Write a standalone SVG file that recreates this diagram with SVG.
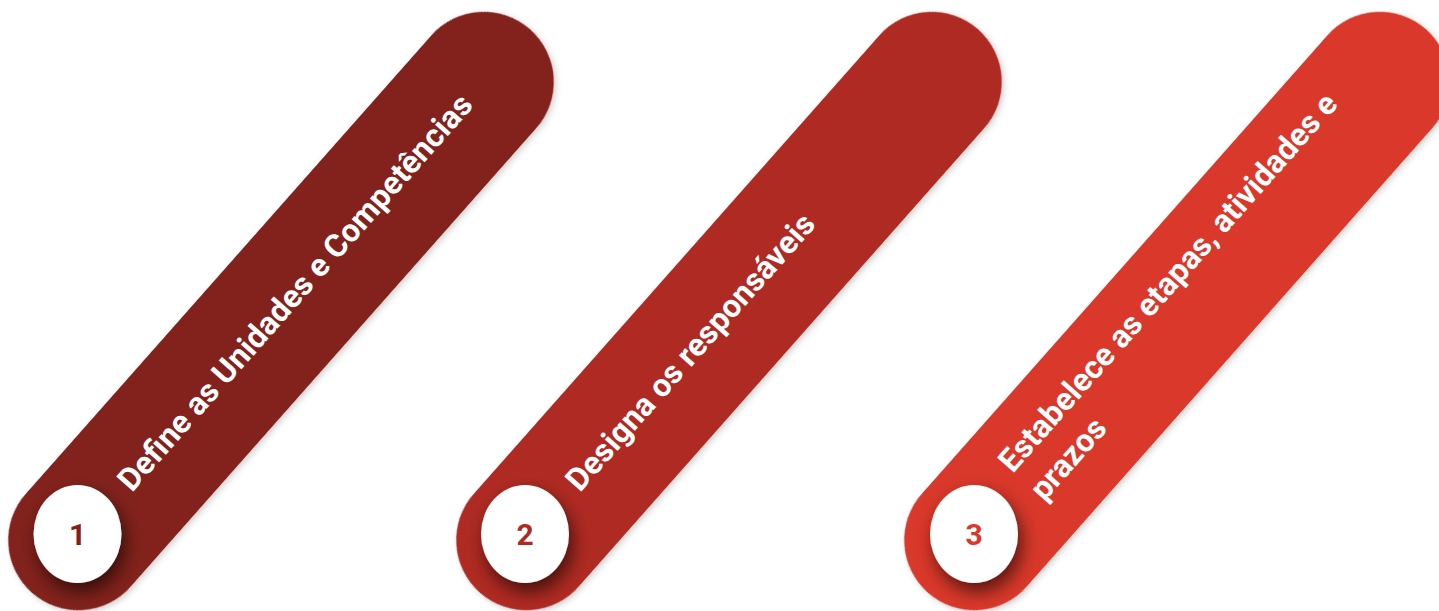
<svg xmlns="http://www.w3.org/2000/svg" width="1439" height="611" viewBox="0 0 1439 611">
<defs>
<filter id="pillShadow" x="-10%" y="-10%" width="120%" height="120%">
<feDropShadow dx="0" dy="3" stdDeviation="3" flood-color="#000" flood-opacity="0.18"/>
</filter>
<filter id="circShadow" x="-60%" y="-60%" width="220%" height="220%">
<feDropShadow dx="4" dy="9" stdDeviation="9" flood-color="#000" flood-opacity="0.6"/>
</filter>
<style>
.label{font-family:Roboto,"Liberation Sans",sans-serif;font-weight:700;font-size:32px;fill:#ffffff;}
.num{font-family:Roboto,"Liberation Sans",sans-serif;font-weight:700;font-size:30px;text-anchor:middle;}
.badge{fill:#ffffff;filter:url(#circShadow);}
</style>
</defs>
<rect width="1439" height="611" fill="#ffffff"/>
<g id="connectors"></g>
<g id="step1">
<g transform="translate(281,311) rotate(-48.5)">
<rect x="-376" y="-70" width="752" height="140" rx="70" fill="#83201A" filter="url(#pillShadow)"/>
<text class="label" x="-235" y="9">Define as Unidades e Competências</text>
</g>
<ellipse class="badge" cx="77.5" cy="534" rx="44" ry="49"/>
<text class="num" x="77.5" y="545" fill="#83201A">1</text>
</g>
<g id="step2">
<g transform="translate(729,311) rotate(-48.5)">
<rect x="-376" y="-70" width="752" height="140" rx="70" fill="#AF2A22" filter="url(#pillShadow)"/>
<text class="label" x="-235" y="9">Designa os responsáveis</text>
</g>
<ellipse class="badge" cx="525" cy="534" rx="44" ry="49"/>
<text class="num" x="525" y="545" fill="#AF2A22">2</text>
</g>
<g id="step3">
<g transform="translate(1177,311) rotate(-48.5)">
<rect x="-376" y="-70" width="752" height="140" rx="70" fill="#D9382C" filter="url(#pillShadow)"/>
<text class="label" x="-231" y="-15">Estabelece as etapas, atividades e<tspan x="-231" dy="42">prazos</tspan></text>
</g>
<ellipse class="badge" cx="974" cy="534" rx="44" ry="49"/>
<text class="num" x="974" y="545" fill="#D9382C">3</text>
</g>
</svg>
